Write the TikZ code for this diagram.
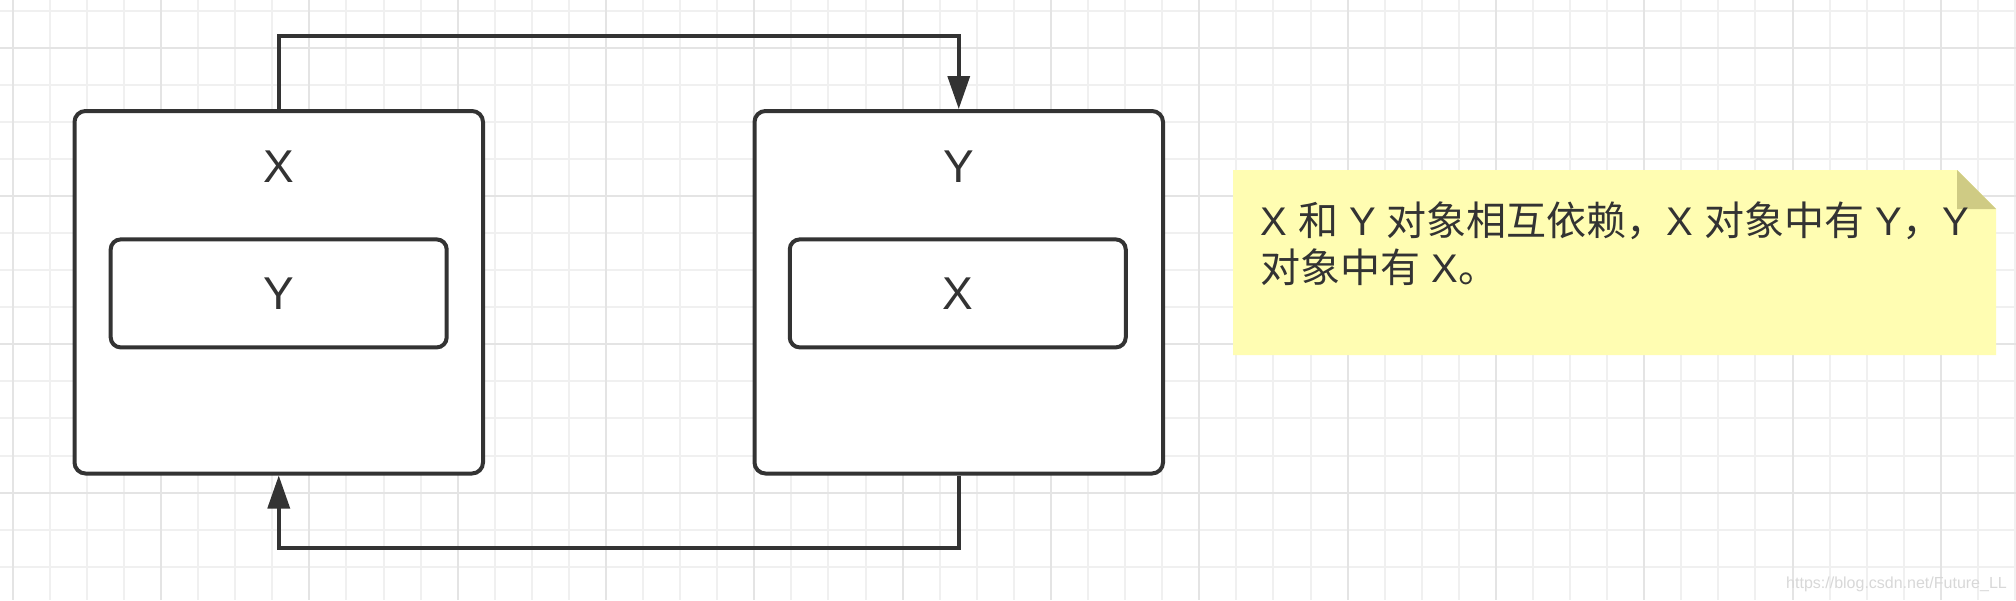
\documentclass[tikz,border=0pt]{standalone}
\usepackage{fontspec}
\setmainfont{Liberation Sans}
\newfontfamily\cjk{Noto Sans CJK SC}
\newcommand\zhtext[1]{{\cjk #1}}
\usetikzlibrary{arrows.meta}
\definecolor{ink}{HTML}{333333}
\definecolor{gridminor}{HTML}{F0F0F0}
\definecolor{gridmajor}{HTML}{E4E4E4}
\definecolor{notefill}{HTML}{FFFDB2}
\definecolor{notefold}{HTML}{CFCB84}
\definecolor{wmark}{HTML}{D8D8D8}
\tikzset{
  outerbox/.style={draw=ink, line width=4pt, rounded corners=11pt, fill=white,
    minimum width=408.5pt, minimum height=362.5pt, inner sep=0pt},
  innerbox/.style={draw=ink, line width=4pt, rounded corners=10pt, fill=white,
    minimum width=336pt, minimum height=108pt, inner sep=0pt,
    font=\fontsize{46}{50}\selectfont, text=ink},
  boxlabel/.style={inner sep=0pt, font=\fontsize{46}{50}\selectfont, text=ink},
  link/.style={draw=ink, line width=3.5pt, -{Triangle[length=33pt,width=22pt]}},
  notetext/.style={inner sep=0pt, anchor=base west, font=\fontsize{40}{47}\selectfont, text=ink},
  gridline/.style={line width=2pt},
}
\begin{document}
\begin{tikzpicture}[x=1pt,y=-1pt]
\useasboundingbox (0,0) rectangle (2016,600);
\fill[white] (0,0) rectangle (2016,600);
% grid
\foreach \i in {0,...,54} {
  \draw[gridline, draw=gridminor] ({12.7+37.08*\i},0) -- ({12.7+37.08*\i},600);
}
\foreach \i in {0,...,16} {
  \draw[gridline, draw=gridminor] (0,{10.6+37.08*\i}) -- (2016,{10.6+37.08*\i});
}
\foreach \i in {0,...,13} {
  \draw[gridline, draw=gridmajor] ({12.7+148.33*\i},0) -- ({12.7+148.33*\i},600);
}
\foreach \i in {0,...,4} {
  \draw[gridline, draw=gridmajor] (0,{47.7+148.33*\i}) -- (2016,{47.7+148.33*\i});
}
% boxes
\node[outerbox] (bx) at (278.75,292.25) {};
\node[outerbox] (by) at (958.75,292.25) {};
\node[boxlabel] (lx) at (278.75,167) {X};
\node[boxlabel] (ly) at (958.75,167) {Y};
\node[innerbox] (iy) at (278.7,293.4) {Y};
\node[innerbox] (ix) at (957.75,293.4) {X};
% connectors
\draw[link] (bx.north) -- (bx.north |- 0,36) -| (by.north);
\draw[link] (by.south) -- (by.south |- 0,548) -| (bx.south);
% note
\fill[notefill] (1233,170) -- (1957,170) -- (1996,209) -- (1996,355) -- (1233,355) -- cycle;
\fill[notefold] (1957,170) -- (1996,209) -- (1957,209) -- cycle;
\node[notetext] (n1) at (1260,235) {X \zhtext{和} Y \zhtext{对象相互依赖，}X \zhtext{对象中有} Y\zhtext{，}Y};
\node[notetext] (n2) at (1260,282) {\zhtext{对象中有} X\zhtext{。}};
% watermark
\node[inner sep=0pt, anchor=base east, font=\fontsize{16}{18}\selectfont, text=wmark] (wm) at (2007,588) {https://blog.csdn.net/Future\_LL};
\end{tikzpicture}
\end{document}
